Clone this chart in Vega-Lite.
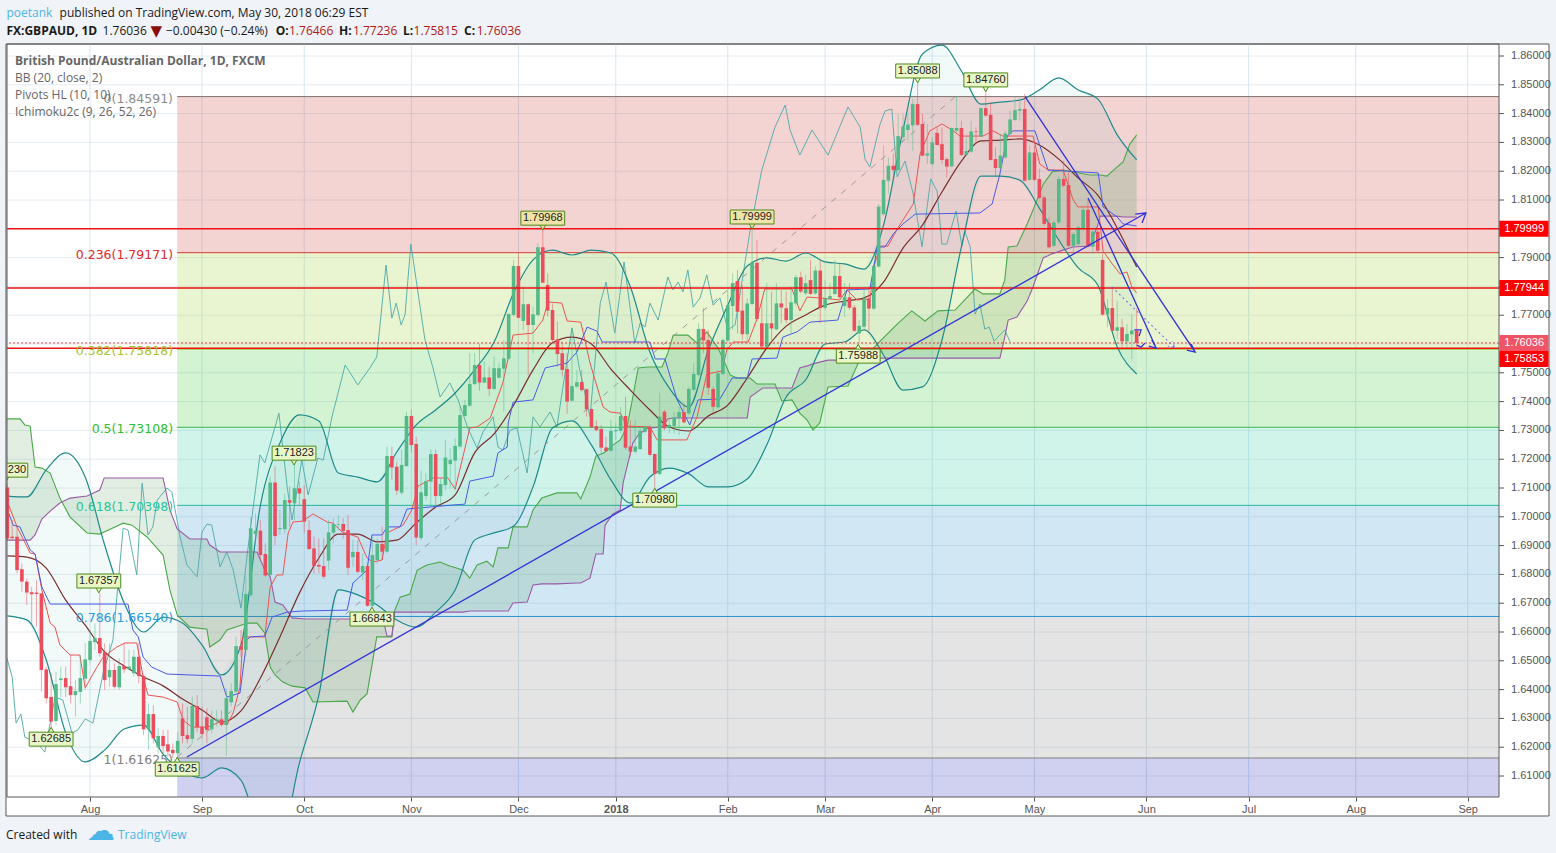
{"$schema":"https://vega.github.io/schema/vega-lite/v6.json","width":1492,"height":753,"autosize":"none","padding":{"left":7,"top":44,"right":57,"bottom":56},"background":"#f0f3f7",
"datasets":{
"panel":[{"x1":0.73,"x2":317.7,"y1":1.59611,"y2":1.86417}],
"plot":[{"x1":0.938,"x2":307.43,"y1":1.60271,"y2":1.86417}],
"gridY":[{"p":1.61},{"p":1.62},{"p":1.63},{"p":1.64},{"p":1.65},{"p":1.66},{"p":1.67},{"p":1.68},{"p":1.69},{"p":1.70},{"p":1.71},{"p":1.72},{"p":1.73},{"p":1.74},{"p":1.75},{"p":1.76},{"p":1.77},{"p":1.78},{"p":1.79},{"p":1.80},{"p":1.81},{"p":1.82},{"p":1.83},{"p":1.84},{"p":1.85},{"p":1.86}],
"gridX":[{"n":18},{"n":41},{"n":62},{"n":84},{"n":106},{"n":126},{"n":149},{"n":169},{"n":191},{"n":212},{"n":235},{"n":256},{"n":278},{"n":301}],
"fib":[{"level":"0","p":1.84591,"next":1.79171,"label":"0(1.84591)"},{"level":"0.236","p":1.79171,"next":1.75818,"label":"0.236(1.79171)"},{"level":"0.382","p":1.75818,"next":1.73108,"label":"0.382(1.75818)"},{"level":"0.5","p":1.73108,"next":1.70398,"label":"0.5(1.73108)"},{"level":"0.618","p":1.70398,"next":1.6654,"label":"0.618(1.70398)"},{"level":"0.786","p":1.6654,"next":1.61625,"label":"0.786(1.66540)"},{"level":"1","p":1.61625,"next":1.60271,"label":"1(1.61625)"}],
"hlines":[{"p":1.79999},{"p":1.77944},{"p":1.75853}],
"closeLine":[{"p":1.76036}],
"tags":[{"p":1.79999,"label":"1.79999","tone":"level"},{"p":1.77944,"label":"1.77944","tone":"level"},{"p":1.76036,"label":"1.76036","tone":"close"},{"p":1.75479,"label":"1.75853","tone":"level"}],
"callouts":[{"n":188,"p":1.8548,"label":"1.85088","dir":"high","tone":"green"},{"n":202,"p":1.8517,"label":"1.84760","dir":"high","tone":"green"},{"n":111,"p":1.8037,"label":"1.79968","dir":"high","tone":"tan"},{"n":154,"p":1.8041,"label":"1.79999","dir":"high","tone":"tan"},{"n":59.9,"p":1.7221,"label":"1.71823","dir":"high","tone":"green"},{"n":19.8,"p":1.6777,"label":"1.67357","dir":"high","tone":"green"},{"n":10,"p":1.6228,"label":"1.62685","dir":"low","tone":"green"},{"n":35.9,"p":1.6124,"label":"1.61625","dir":"low","tone":"green"},{"n":75.9,"p":1.6645,"label":"1.66843","dir":"low","tone":"green"},{"n":134,"p":1.7058,"label":"1.70980","dir":"low","tone":"green"},{"n":175.8,"p":1.7558,"label":"1.75988","dir":"low","tone":"green"},{"n":0.7,"p":1.7162,"label":"230","dir":"high","tone":"green"}],
"notes":[{"n":0.815,"p":1.87498,"label":"poetank","style":"link"},{"n":11.74,"p":1.87498,"label":"published on TradingView.com, May 30, 2018 06:29 EST","style":"plain"},{"n":0.815,"p":1.86873,"label":"FX:GBPAUD, 1D","style":"bold"},{"n":20.56,"p":1.86873,"label":"1.76036","style":"plain"},{"n":33.6,"p":1.86873,"label":"−0.00430 (−0.24%)","style":"plain"},{"n":56.14,"p":1.86873,"label":"O:","style":"bold"},{"n":58.87,"p":1.86873,"label":"1.76466","style":"loss"},{"n":69.14,"p":1.86873,"label":"H:","style":"bold"},{"n":72.01,"p":1.86873,"label":"1.77236","style":"loss"},{"n":82.28,"p":1.86873,"label":"L:","style":"bold"},{"n":84.46,"p":1.86873,"label":"1.75815","style":"loss"},{"n":94.82,"p":1.86873,"label":"C:","style":"bold"},{"n":97.45,"p":1.86873,"label":"1.76036","style":"loss"},{"n":2.58,"p":1.8583,"label":"British Pound/Australian Dollar, 1D, FXCM","style":"softbold"},{"n":2.58,"p":1.8524,"label":"BB (20, close, 2)","style":"soft"},{"n":2.58,"p":1.8465,"label":"Pivots HL (10, 10)","style":"soft"},{"n":2.58,"p":1.8406,"label":"Ichimoku2c (9, 26, 52, 26)","style":"soft"},{"n":0.73,"p":1.58951,"label":"Created with","style":"plain"},{"n":23.74,"p":1.58951,"label":"TradingView","style":"link"}],
"glyphs":[{"n":30.4,"p":1.86873,"label":"▼","style":"loss"},{"n":17.3,"p":1.5906,"label":"☁","style":"link"}],
"trends":[{"t":"a","i":1,"n":37.9,"p":1.6166},{"t":"a","i":2,"n":234.9,"p":1.8055},{"t":"a","i":3,"n":232.7,"p":1.8051},{"t":"a","i":4,"n":234.9,"p":1.8055},{"t":"a","i":5,"n":234.1,"p":1.802},{"t":"b","i":1,"n":210.1,"p":1.8458},{"t":"b","i":2,"n":245,"p":1.7572},{"t":"b","i":3,"n":243.3,"p":1.7579},{"t":"b","i":4,"n":245,"p":1.7572},{"t":"b","i":5,"n":244.2,"p":1.76},{"t":"c","i":1,"n":223,"p":1.8107},{"t":"c","i":2,"n":237,"p":1.7586},{"t":"c","i":3,"n":235.5,"p":1.7593},{"t":"c","i":4,"n":237,"p":1.7586},{"t":"c","i":5,"n":236.1,"p":1.7614},{"t":"d","i":1,"n":232.5,"p":1.7649},{"t":"d","i":2,"n":233.9,"p":1.7649},{"t":"d","i":3,"n":233.5,"p":1.7628},{"t":"e","i":1,"n":233,"p":1.7596},{"t":"e","i":2,"n":233.9,"p":1.7589},{"t":"e","i":3,"n":234.7,"p":1.7603}],
"dotted":[{"t":"f","i":1,"n":227.9,"p":1.7798},{"t":"f","i":2,"n":240.9,"p":1.7586},{"t":"f","i":3,"n":239.4,"p":1.7593},{"t":"f","i":4,"n":240.9,"p":1.7586},{"t":"f","i":5,"n":240.3,"p":1.761}],
"fibDiag":[{"n":35.9,"p":1.6166},{"n":195.7,"p":1.8458}],
"bb":[{"n":1,"up":1.7072,"lo":1.6656,"mid":1.6864},{"n":5,"up":1.7069,"lo":1.6642,"mid":1.686},{"n":9,"up":1.7163,"lo":1.6503,"mid":1.6822},{"n":13,"up":1.7222,"lo":1.6249,"mid":1.6711},{"n":17,"up":1.7138,"lo":1.6149,"mid":1.6624},{"n":21,"up":1.6902,"lo":1.619,"mid":1.6531},{"n":25,"up":1.6701,"lo":1.6263,"mid":1.6482},{"n":29,"up":1.66,"lo":1.6277,"mid":1.6444},{"n":33,"up":1.6652,"lo":1.6176,"mid":1.6413},{"n":37,"up":1.6631,"lo":1.6117,"mid":1.6367},{"n":41,"up":1.6555,"lo":1.6093,"mid":1.6329},{"n":45,"up":1.6451,"lo":1.6128,"mid":1.6288},{"n":49,"up":1.6555,"lo":1.6086,"mid":1.6326},{"n":53,"up":1.7041,"lo":1.5913,"mid":1.644},{"n":57,"up":1.7256,"lo":1.5878,"mid":1.6583},{"n":61,"up":1.7354,"lo":1.6145,"mid":1.6735},{"n":65,"up":1.7333,"lo":1.6381,"mid":1.6857},{"n":69,"up":1.7152,"lo":1.6746,"mid":1.694},{"n":73,"up":1.7138,"lo":1.6729,"mid":1.694},{"n":77,"up":1.7121,"lo":1.6694,"mid":1.6913},{"n":81,"up":1.7225,"lo":1.6642,"mid":1.6919},{"n":85,"up":1.7319,"lo":1.6617,"mid":1.6979},{"n":89,"up":1.7371,"lo":1.6669,"mid":1.7034},{"n":93,"up":1.743,"lo":1.6746,"mid":1.7076},{"n":97,"up":1.751,"lo":1.6919,"mid":1.7222},{"n":101,"up":1.7607,"lo":1.6944,"mid":1.7288},{"n":105,"up":1.7777,"lo":1.6968,"mid":1.7388},{"n":109,"up":1.7892,"lo":1.7104,"mid":1.751},{"n":113,"up":1.7926,"lo":1.7308,"mid":1.7604},{"n":117,"up":1.7909,"lo":1.7333,"mid":1.7624},{"n":121,"up":1.7926,"lo":1.7249,"mid":1.76},{"n":125,"up":1.7916,"lo":1.7128,"mid":1.7513},{"n":129,"up":1.7798,"lo":1.7048,"mid":1.744},{"n":133,"up":1.7572,"lo":1.7138,"mid":1.7371},{"n":137,"up":1.7447,"lo":1.7169,"mid":1.7312},{"n":141,"up":1.7381,"lo":1.7149,"mid":1.7298},{"n":145,"up":1.7579,"lo":1.7104,"mid":1.735},{"n":149,"up":1.7735,"lo":1.7104,"mid":1.7388},{"n":153,"up":1.7871,"lo":1.7131,"mid":1.7482},{"n":157,"up":1.7899,"lo":1.7249,"mid":1.7586},{"n":161,"up":1.7888,"lo":1.7416,"mid":1.7662},{"n":165,"up":1.7916,"lo":1.7475,"mid":1.7701},{"n":169,"up":1.7885,"lo":1.76,"mid":1.7735},{"n":173,"up":1.7878,"lo":1.7607,"mid":1.7749},{"n":177,"up":1.786,"lo":1.7649,"mid":1.776},{"n":181,"up":1.8013,"lo":1.7562,"mid":1.7815},{"n":185,"up":1.8343,"lo":1.744,"mid":1.7933},{"n":189,"up":1.8607,"lo":1.7451,"mid":1.8013},{"n":193,"up":1.8638,"lo":1.7614,"mid":1.8128},{"n":197,"up":1.8548,"lo":1.7937,"mid":1.8235},{"n":201,"up":1.8433,"lo":1.8183,"mid":1.8305},{"n":205,"up":1.844,"lo":1.8183,"mid":1.8308},{"n":209,"up":1.8447,"lo":1.8169,"mid":1.8312},{"n":213,"up":1.8482,"lo":1.8072,"mid":1.8291},{"n":217,"up":1.8524,"lo":1.7961,"mid":1.8242},{"n":221,"up":1.8482,"lo":1.7864,"mid":1.8176},{"n":225,"up":1.8451,"lo":1.7805,"mid":1.8117},{"n":229,"up":1.8326,"lo":1.759,"mid":1.8003},{"n":233,"up":1.8239,"lo":1.7496,"mid":1.7867}],
"cloud":[{"n":0.9,"a":1.734,"b":1.6919},{"n":3.6,"a":1.734,"b":1.6919},{"n":4.6,"a":1.7319,"b":1.6919},{"n":5.7,"a":1.7315,"b":1.6919},{"n":6.7,"a":1.7173,"b":1.6937},{"n":8.1,"a":1.7169,"b":1.6992},{"n":9.8,"a":1.7152,"b":1.702},{"n":11.8,"a":1.7065,"b":1.7048},{"n":13.9,"a":1.6999,"b":1.7065},{"n":17.4,"a":1.6944,"b":1.7072},{"n":20,"a":1.694,"b":1.7093},{"n":20.9,"a":1.6947,"b":1.7135},{"n":24.8,"a":1.6978,"b":1.7135},{"n":26.6,"a":1.6971,"b":1.7135},{"n":29.7,"a":1.693,"b":1.7135},{"n":33,"a":1.6867,"b":1.7135},{"n":34.4,"a":1.6746,"b":1.7024},{"n":35.9,"a":1.6659,"b":1.6958},{"n":38.5,"a":1.6617,"b":1.6923},{"n":42,"a":1.661,"b":1.6923},{"n":42.6,"a":1.6548,"b":1.6902},{"n":44.7,"a":1.6572,"b":1.6878},{"n":46.1,"a":1.6607,"b":1.6878},{"n":50.4,"a":1.6631,"b":1.6878},{"n":52.3,"a":1.6631,"b":1.6878},{"n":53.9,"a":1.6596,"b":1.6815},{"n":55,"a":1.6478,"b":1.6791},{"n":56,"a":1.6451,"b":1.6704},{"n":57.6,"a":1.6426,"b":1.6694},{"n":59.5,"a":1.6412,"b":1.6649},{"n":62.2,"a":1.6406,"b":1.6645},{"n":63.8,"a":1.6357,"b":1.6645},{"n":70.8,"a":1.636,"b":1.6645},{"n":72,"a":1.6322,"b":1.6645},{"n":73.5,"a":1.6364,"b":1.6645},{"n":74.9,"a":1.6385,"b":1.6645},{"n":76.9,"a":1.6583,"b":1.6645},{"n":78.2,"a":1.6583,"b":1.6645},{"n":79,"a":1.6583,"b":1.6586},{"n":80,"a":1.6583,"b":1.6586},{"n":80.6,"a":1.6676,"b":1.6669},{"n":81.7,"a":1.6721,"b":1.6669},{"n":83.7,"a":1.6732,"b":1.6669},{"n":85.2,"a":1.6815,"b":1.6669},{"n":87.2,"a":1.6833,"b":1.6669},{"n":89.9,"a":1.6843,"b":1.6669},{"n":91.9,"a":1.6829,"b":1.6669},{"n":94.6,"a":1.6815,"b":1.6669},{"n":96,"a":1.6787,"b":1.6673},{"n":97.5,"a":1.6833,"b":1.6673},{"n":99.5,"a":1.6846,"b":1.6673},{"n":100.8,"a":1.6826,"b":1.6673},{"n":101.8,"a":1.6892,"b":1.6673},{"n":103.9,"a":1.6892,"b":1.6673},{"n":104.9,"a":1.6965,"b":1.6701},{"n":107.8,"a":1.6965,"b":1.6704},{"n":109,"a":1.7024,"b":1.6763},{"n":110.8,"a":1.7065,"b":1.6767},{"n":113.9,"a":1.7083,"b":1.6767},{"n":118,"a":1.7083,"b":1.677},{"n":118.8,"a":1.7062,"b":1.677},{"n":120.7,"a":1.7138,"b":1.6787},{"n":121.9,"a":1.7211,"b":1.6871},{"n":123.4,"a":1.7221,"b":1.6871},{"n":123.8,"a":1.7225,"b":1.6971},{"n":125.4,"a":1.7249,"b":1.701},{"n":126.9,"a":1.7267,"b":1.7024},{"n":127.5,"a":1.7287,"b":1.7117},{"n":128.3,"a":1.7312,"b":1.7173},{"n":129.5,"a":1.7416,"b":1.7256},{"n":130.6,"a":1.7517,"b":1.7284},{"n":132.6,"a":1.752,"b":1.7308},{"n":135.5,"a":1.752,"b":1.7312},{"n":136.7,"a":1.7569,"b":1.734},{"n":137.8,"a":1.7631,"b":1.7343},{"n":140.8,"a":1.7631,"b":1.7343},{"n":142.7,"a":1.7603,"b":1.7343},{"n":144.7,"a":1.7642,"b":1.7343},{"n":147,"a":1.7586,"b":1.7343},{"n":148.4,"a":1.7534,"b":1.7343},{"n":149.5,"a":1.7492,"b":1.7343},{"n":150.9,"a":1.7482,"b":1.7343},{"n":153,"a":1.7482,"b":1.7343},{"n":153.6,"a":1.7482,"b":1.7416},{"n":155,"a":1.7461,"b":1.7433},{"n":156.2,"a":1.7461,"b":1.7447},{"n":158.7,"a":1.7461,"b":1.7447},{"n":160.1,"a":1.7402,"b":1.7447},{"n":162.2,"a":1.7406,"b":1.7447},{"n":163.8,"a":1.736,"b":1.7517},{"n":165.3,"a":1.7336,"b":1.7524},{"n":166.5,"a":1.7301,"b":1.7531},{"n":167.9,"a":1.7326,"b":1.7537},{"n":169.6,"a":1.7451,"b":1.7544},{"n":173.7,"a":1.7454,"b":1.7544},{"n":175.8,"a":1.7534,"b":1.7544},{"n":177.6,"a":1.7562,"b":1.7551},{"n":180.3,"a":1.761,"b":1.7551},{"n":183.8,"a":1.7669,"b":1.7551},{"n":186.8,"a":1.7715,"b":1.7551},{"n":189.5,"a":1.768,"b":1.7551},{"n":192.2,"a":1.7715,"b":1.7551},{"n":195.7,"a":1.7718,"b":1.7551},{"n":199.8,"a":1.7791,"b":1.7551},{"n":201.4,"a":1.7774,"b":1.7551},{"n":204.9,"a":1.7774,"b":1.7551},{"n":205.9,"a":1.7822,"b":1.7624},{"n":206.6,"a":1.7937,"b":1.7683},{"n":208.4,"a":1.794,"b":1.7694},{"n":210.5,"a":1.8017,"b":1.7749},{"n":211.7,"a":1.8065,"b":1.7798},{"n":213.8,"a":1.8155,"b":1.7899},{"n":215.6,"a":1.8197,"b":1.7913},{"n":217.9,"a":1.8204,"b":1.7926},{"n":219.9,"a":1.8197,"b":1.7937},{"n":223.4,"a":1.8187,"b":1.794},{"n":225.1,"a":1.8187,"b":1.8017},{"n":225.5,"a":1.8187,"b":1.8044},{"n":226.9,"a":1.8183,"b":1.8044},{"n":229,"a":1.8215,"b":1.8044},{"n":230.2,"a":1.8232,"b":1.8041},{"n":231.6,"a":1.8294,"b":1.8041},{"n":233,"a":1.8326,"b":1.8041}],
"lag":[{"n":0.9,"p":1.651},{"n":2,"p":1.6444},{"n":2.8,"p":1.6284},{"n":3.8,"p":1.6315},{"n":4.6,"p":1.6235},{"n":7.1,"p":1.6215},{"n":8.7,"p":1.6183},{"n":10.8,"p":1.6374},{"n":12.4,"p":1.6364},{"n":14.3,"p":1.6249},{"n":15.5,"p":1.626},{"n":17,"p":1.6298},{"n":18.6,"p":1.6284},{"n":20.7,"p":1.6458},{"n":22.7,"p":1.6572},{"n":24.8,"p":1.6961},{"n":25.8,"p":1.6954},{"n":27.6,"p":1.6798},{"n":28.7,"p":1.7117},{"n":29.9,"p":1.6937},{"n":30.9,"p":1.6965},{"n":31.8,"p":1.7058},{"n":33.8,"p":1.71},{"n":34.8,"p":1.7086},{"n":36.5,"p":1.693},{"n":37.9,"p":1.6833},{"n":40,"p":1.6791},{"n":41,"p":1.6947},{"n":42,"p":1.6975},{"n":43,"p":1.6971},{"n":44.7,"p":1.6826},{"n":46.1,"p":1.6878},{"n":47.4,"p":1.6815},{"n":49,"p":1.6683},{"n":50.4,"p":1.6885},{"n":52.9,"p":1.7215},{"n":53.9,"p":1.7187},{"n":56.8,"p":1.736},{"n":58.5,"p":1.7103},{"n":59.5,"p":1.6989},{"n":61.5,"p":1.7197},{"n":62.8,"p":1.7076},{"n":64.8,"p":1.7204},{"n":65.9,"p":1.7197},{"n":67.7,"p":1.7347},{"n":70.4,"p":1.7527},{"n":73,"p":1.7458},{"n":75.5,"p":1.7517},{"n":76.9,"p":1.7555},{"n":78.8,"p":1.7874},{"n":80,"p":1.769},{"n":80.9,"p":1.7742},{"n":81.9,"p":1.7666},{"n":82.7,"p":1.7701},{"n":83.9,"p":1.7947},{"n":86.8,"p":1.7614},{"n":88.4,"p":1.752},{"n":89.9,"p":1.7416},{"n":91.9,"p":1.7465},{"n":93.6,"p":1.7406},{"n":95.6,"p":1.7308},{"n":97.5,"p":1.7239},{"n":98.7,"p":1.7294},{"n":100.8,"p":1.7347},{"n":101.8,"p":1.7242},{"n":102.8,"p":1.7232},{"n":104.3,"p":1.7301},{"n":105.7,"p":1.7308},{"n":107.8,"p":1.7152},{"n":109,"p":1.7347},{"n":110.4,"p":1.7312},{"n":112.5,"p":1.7364},{"n":113.9,"p":1.7312},{"n":117,"p":1.7656},{"n":118.6,"p":1.751},{"n":120.7,"p":1.7347},{"n":122.8,"p":1.7742},{"n":124,"p":1.7815},{"n":125.8,"p":1.7638},{"n":127.7,"p":1.7885},{"n":129.9,"p":1.7603},{"n":131,"p":1.7673},{"n":132,"p":1.7659},{"n":133,"p":1.7742},{"n":134.7,"p":1.7683},{"n":136.7,"p":1.7833},{"n":137.7,"p":1.7788},{"n":138.8,"p":1.7815},{"n":139.8,"p":1.7781},{"n":140.8,"p":1.7857},{"n":141.9,"p":1.7728},{"n":143.3,"p":1.776},{"n":144.7,"p":1.784},{"n":146,"p":1.7735},{"n":147.4,"p":1.776},{"n":149,"p":1.7649},{"n":150.5,"p":1.7666},{"n":153.6,"p":1.7996},{"n":156,"p":1.8204},{"n":158.7,"p":1.8353},{"n":160.8,"p":1.843},{"n":161.8,"p":1.8343},{"n":163.8,"p":1.8256},{"n":166.3,"p":1.8343},{"n":169.6,"p":1.8256},{"n":173.7,"p":1.8423},{"n":176.2,"p":1.8353},{"n":177.2,"p":1.8242},{"n":178.2,"p":1.8215},{"n":180.3,"p":1.8364},{"n":181.3,"p":1.8409},{"n":182.7,"p":1.8416},{"n":183.8,"p":1.818},{"n":185.4,"p":1.8235},{"n":187.1,"p":1.8121},{"n":188.9,"p":1.7937},{"n":190.7,"p":1.8173},{"n":192,"p":1.8131},{"n":193,"p":1.7947},{"n":194,"p":1.7947},{"n":195.9,"p":1.8062},{"n":197.1,"p":1.794},{"n":197.7,"p":1.7992},{"n":198.8,"p":1.7937},{"n":199.8,"p":1.7704},{"n":200.8,"p":1.7739},{"n":201.8,"p":1.7652},{"n":202.7,"p":1.7659},{"n":203.7,"p":1.761},{"n":205.9,"p":1.7649},{"n":207,"p":1.7607}],
"tenkan":[{"n":0.9,"p":1.7058},{"n":3,"p":1.6965},{"n":5.7,"p":1.6874},{"n":6.7,"p":1.6871},{"n":8.1,"p":1.6746},{"n":9.8,"p":1.6631},{"n":10.8,"p":1.6617},{"n":11.8,"p":1.6555},{"n":13.9,"p":1.652},{"n":15.9,"p":1.652},{"n":17,"p":1.6406},{"n":19.4,"p":1.6478},{"n":20.7,"p":1.6513},{"n":23.5,"p":1.6548},{"n":25.2,"p":1.6562},{"n":27.6,"p":1.6562},{"n":28.9,"p":1.6444},{"n":29.9,"p":1.6381},{"n":33,"p":1.6374},{"n":35.9,"p":1.6357},{"n":37.1,"p":1.6294},{"n":38.9,"p":1.627},{"n":42.2,"p":1.627},{"n":44.7,"p":1.6288},{"n":46.1,"p":1.6277},{"n":47.4,"p":1.6319},{"n":48.8,"p":1.6409},{"n":49.4,"p":1.6583},{"n":53.9,"p":1.6583},{"n":55,"p":1.6756},{"n":56.4,"p":1.6798},{"n":57.6,"p":1.6798},{"n":58.7,"p":1.6944},{"n":59.7,"p":1.6982},{"n":61.7,"p":1.6985},{"n":63.8,"p":1.701},{"n":66.7,"p":1.6982},{"n":67.9,"p":1.6978},{"n":69.8,"p":1.6947},{"n":73,"p":1.693},{"n":74.9,"p":1.6857},{"n":76.1,"p":1.6843},{"n":78,"p":1.685},{"n":79,"p":1.6944},{"n":82.3,"p":1.6971},{"n":84.1,"p":1.7024},{"n":85.4,"p":1.7107},{"n":88.5,"p":1.7135},{"n":91.5,"p":1.7135},{"n":93,"p":1.7096},{"n":96,"p":1.7308},{"n":97.5,"p":1.7312},{"n":100.2,"p":1.7343},{"n":102.8,"p":1.7465},{"n":104.9,"p":1.7631},{"n":109,"p":1.7638},{"n":111,"p":1.7683},{"n":112.1,"p":1.7746},{"n":114.9,"p":1.7742},{"n":116,"p":1.768},{"n":118.8,"p":1.7676},{"n":120.7,"p":1.7534},{"n":123.4,"p":1.7381},{"n":124.8,"p":1.7364},{"n":126.9,"p":1.736},{"n":128.3,"p":1.7315},{"n":133,"p":1.7312},{"n":134.5,"p":1.7267},{"n":140.6,"p":1.7267},{"n":142.7,"p":1.7347},{"n":144.7,"p":1.7496},{"n":147.8,"p":1.7506},{"n":148.8,"p":1.7579},{"n":150.1,"p":1.7607},{"n":153.2,"p":1.7607},{"n":155,"p":1.7687},{"n":156.6,"p":1.7791},{"n":162.2,"p":1.7791},{"n":163.8,"p":1.7715},{"n":165.3,"p":1.7763},{"n":167.9,"p":1.776},{"n":172,"p":1.7753},{"n":173.5,"p":1.7788},{"n":175.5,"p":1.7753},{"n":178.2,"p":1.7756},{"n":179.2,"p":1.7878},{"n":180.3,"p":1.794},{"n":181.9,"p":1.794},{"n":183.8,"p":1.7999},{"n":187.1,"p":1.8086},{"n":188.5,"p":1.826},{"n":190.5,"p":1.834},{"n":193,"p":1.8364},{"n":195.1,"p":1.8343},{"n":196.7,"p":1.8322},{"n":201.4,"p":1.8322},{"n":203.5,"p":1.834},{"n":205.5,"p":1.8322},{"n":211.7,"p":1.8322},{"n":213.1,"p":1.8225},{"n":214.8,"p":1.8204},{"n":217.9,"p":1.8204},{"n":219.9,"p":1.8103},{"n":220.9,"p":1.8076},{"n":225.1,"p":1.8076},{"n":226.1,"p":1.7923},{"n":228,"p":1.7878},{"n":229.6,"p":1.7843},{"n":231,"p":1.785},{"n":232,"p":1.7798},{"n":233,"p":1.7777}],
"kijun":[{"n":0.9,"p":1.703},{"n":2.2,"p":1.6971},{"n":3.6,"p":1.6965},{"n":5.7,"p":1.6885},{"n":6.7,"p":1.6871},{"n":8.1,"p":1.6756},{"n":9.8,"p":1.6697},{"n":25.8,"p":1.6697},{"n":26.8,"p":1.6607},{"n":27.9,"p":1.6583},{"n":28.9,"p":1.6513},{"n":30.7,"p":1.6478},{"n":33.8,"p":1.6454},{"n":44.7,"p":1.6447},{"n":46.1,"p":1.6374},{"n":48.8,"p":1.6388},{"n":50.2,"p":1.6572},{"n":50.9,"p":1.6583},{"n":53.9,"p":1.6586},{"n":55.4,"p":1.6652},{"n":58.5,"p":1.6669},{"n":61.7,"p":1.6673},{"n":70.8,"p":1.6676},{"n":72,"p":1.677},{"n":74.9,"p":1.6815},{"n":75.9,"p":1.6937},{"n":78,"p":1.6937},{"n":79,"p":1.6965},{"n":81.7,"p":1.6965},{"n":83.1,"p":1.7027},{"n":92.6,"p":1.7041},{"n":95,"p":1.7044},{"n":96,"p":1.7124},{"n":100.8,"p":1.7141},{"n":101.8,"p":1.7222},{"n":103.7,"p":1.7242},{"n":103.9,"p":1.7326},{"n":104.9,"p":1.7398},{"n":109,"p":1.7406},{"n":111.5,"p":1.7517},{"n":116,"p":1.7534},{"n":118,"p":1.7572},{"n":120.1,"p":1.7659},{"n":122.1,"p":1.7645},{"n":123.2,"p":1.7607},{"n":133,"p":1.7607},{"n":134.1,"p":1.7548},{"n":136.1,"p":1.7548},{"n":138.6,"p":1.7406},{"n":141.2,"p":1.7319},{"n":142.9,"p":1.7406},{"n":147.4,"p":1.7409},{"n":149.9,"p":1.7482},{"n":153,"p":1.7482},{"n":154,"p":1.7548},{"n":159.1,"p":1.7551},{"n":160.3,"p":1.7624},{"n":163.2,"p":1.7642},{"n":165.9,"p":1.7676},{"n":171.6,"p":1.7683},{"n":173.5,"p":1.7788},{"n":178.2,"p":1.7791},{"n":179.7,"p":1.7937},{"n":181.3,"p":1.7937},{"n":183,"p":1.7982},{"n":185,"p":1.8017},{"n":187.5,"p":1.8051},{"n":200.8,"p":1.8055},{"n":203.3,"p":1.8086},{"n":204.9,"p":1.819},{"n":206.4,"p":1.8322},{"n":207.6,"p":1.834},{"n":212.1,"p":1.834},{"n":214.8,"p":1.8204},{"n":225.1,"p":1.8194},{"n":226.1,"p":1.8076},{"n":229,"p":1.8041},{"n":230.2,"p":1.8017},{"n":233,"p":1.801}],
"candles":[{"n":1,"o":1.7102,"h":1.7116,"l":1.6919,"c":1.6925},{"n":2,"o":1.6931,"h":1.6989,"l":1.6919,"c":1.6926},{"n":3,"o":1.6931,"h":1.6972,"l":1.6804,"c":1.6815},{"n":4,"o":1.6818,"h":1.6838,"l":1.674,"c":1.6775},{"n":5,"o":1.6775,"h":1.6786,"l":1.6694,"c":1.6737},{"n":6,"o":1.6738,"h":1.6757,"l":1.6624,"c":1.6731},{"n":7,"o":1.6737,"h":1.6781,"l":1.6619,"c":1.6732},{"n":8,"o":1.6734,"h":1.6736,"l":1.6393,"c":1.6468},{"n":9,"o":1.647,"h":1.648,"l":1.6352,"c":1.637},{"n":10,"o":1.6375,"h":1.6457,"l":1.6271,"c":1.6289},{"n":11,"o":1.6291,"h":1.6462,"l":1.6277,"c":1.6419},{"n":12,"o":1.6433,"h":1.648,"l":1.6375,"c":1.6439},{"n":13,"o":1.644,"h":1.648,"l":1.6375,"c":1.6408},{"n":14,"o":1.6412,"h":1.652,"l":1.6352,"c":1.6381},{"n":15,"o":1.6381,"h":1.6433,"l":1.6306,"c":1.6395},{"n":16,"o":1.6392,"h":1.652,"l":1.6352,"c":1.644},{"n":17,"o":1.6438,"h":1.6561,"l":1.6399,"c":1.6505},{"n":18,"o":1.6503,"h":1.6607,"l":1.6491,"c":1.6569},{"n":19,"o":1.6565,"h":1.663,"l":1.6538,"c":1.6579},{"n":20,"o":1.6579,"h":1.67357,"l":1.6514,"c":1.6526},{"n":21,"o":1.653,"h":1.6561,"l":1.6399,"c":1.6433},{"n":22,"o":1.6443,"h":1.6561,"l":1.641,"c":1.6468},{"n":23,"o":1.6468,"h":1.6491,"l":1.6404,"c":1.641},{"n":24,"o":1.6408,"h":1.6509,"l":1.6399,"c":1.6482},{"n":25,"o":1.6482,"h":1.6561,"l":1.6457,"c":1.647},{"n":26,"o":1.6471,"h":1.6538,"l":1.6468,"c":1.648},{"n":27,"o":1.6457,"h":1.6538,"l":1.6445,"c":1.6514},{"n":28,"o":1.6514,"h":1.6561,"l":1.6422,"c":1.6447},{"n":29,"o":1.6447,"h":1.6451,"l":1.6242,"c":1.6262},{"n":30,"o":1.6262,"h":1.6352,"l":1.619,"c":1.6315},{"n":31,"o":1.6315,"h":1.6346,"l":1.6213,"c":1.6231},{"n":32,"o":1.62,"h":1.6266,"l":1.6179,"c":1.6239},{"n":33,"o":1.6239,"h":1.626,"l":1.6179,"c":1.6204},{"n":34,"o":1.621,"h":1.626,"l":1.6167,"c":1.6185},{"n":35,"o":1.6191,"h":1.6213,"l":1.61625,"c":1.6179},{"n":36,"o":1.6179,"h":1.6254,"l":1.617,"c":1.6222},{"n":37,"o":1.63,"h":1.6352,"l":1.6213,"c":1.6239},{"n":38,"o":1.6242,"h":1.6341,"l":1.6213,"c":1.6228},{"n":39,"o":1.6229,"h":1.6375,"l":1.6213,"c":1.6343},{"n":40,"o":1.6343,"h":1.6381,"l":1.6254,"c":1.6269},{"n":41,"o":1.6271,"h":1.6341,"l":1.6231,"c":1.6246},{"n":42,"o":1.6304,"h":1.6335,"l":1.6213,"c":1.626},{"n":43,"o":1.6262,"h":1.6329,"l":1.6248,"c":1.6297},{"n":44,"o":1.6292,"h":1.6329,"l":1.6271,"c":1.6297},{"n":45,"o":1.6297,"h":1.6329,"l":1.6271,"c":1.6277},{"n":46,"o":1.6277,"h":1.6404,"l":1.617,"c":1.637},{"n":47,"o":1.6356,"h":1.6422,"l":1.6341,"c":1.6395},{"n":48,"o":1.6393,"h":1.6584,"l":1.6387,"c":1.6551},{"n":49,"o":1.6551,"h":1.6607,"l":1.6514,"c":1.6538},{"n":50,"o":1.6538,"h":1.6792,"l":1.6514,"c":1.6732},{"n":51,"o":1.6728,"h":1.7,"l":1.6723,"c":1.696},{"n":52,"o":1.694,"h":1.7012,"l":1.6908,"c":1.6952},{"n":53,"o":1.6952,"h":1.6989,"l":1.685,"c":1.6867},{"n":54,"o":1.6871,"h":1.6908,"l":1.6792,"c":1.6796},{"n":55,"o":1.6798,"h":1.7139,"l":1.6792,"c":1.7119},{"n":56,"o":1.7119,"h":1.7174,"l":1.6902,"c":1.6933},{"n":57,"o":1.6957,"h":1.7024,"l":1.6937,"c":1.6961},{"n":58,"o":1.6957,"h":1.7081,"l":1.6942,"c":1.7058},{"n":59,"o":1.7058,"h":1.7105,"l":1.6966,"c":1.7049},{"n":60,"o":1.7047,"h":1.71823,"l":1.6989,"c":1.7099},{"n":61,"o":1.7099,"h":1.7122,"l":1.7041,"c":1.7081},{"n":62,"o":1.7061,"h":1.711,"l":1.6945,"c":1.6983},{"n":63,"o":1.6954,"h":1.6989,"l":1.6885,"c":1.6888},{"n":64,"o":1.689,"h":1.6931,"l":1.6804,"c":1.6829},{"n":65,"o":1.6833,"h":1.6925,"l":1.6804,"c":1.6827},{"n":66,"o":1.6829,"h":1.6925,"l":1.6784,"c":1.6792},{"n":67,"o":1.6848,"h":1.6989,"l":1.6815,"c":1.6946},{"n":68,"o":1.6945,"h":1.6995,"l":1.6908,"c":1.6975},{"n":69,"o":1.6973,"h":1.7006,"l":1.6954,"c":1.6975},{"n":70,"o":1.6975,"h":1.6995,"l":1.6925,"c":1.6951},{"n":71,"o":1.6954,"h":1.7006,"l":1.6798,"c":1.6823},{"n":72,"o":1.686,"h":1.6919,"l":1.6827,"c":1.6878},{"n":73,"o":1.6878,"h":1.6919,"l":1.6804,"c":1.6809},{"n":74,"o":1.6807,"h":1.6873,"l":1.6781,"c":1.6829},{"n":75,"o":1.6829,"h":1.6838,"l":1.6688,"c":1.6691},{"n":76,"o":1.6691,"h":1.6931,"l":1.66843,"c":1.6867},{"n":77,"o":1.685,"h":1.6925,"l":1.6838,"c":1.6906},{"n":78,"o":1.6906,"h":1.6966,"l":1.685,"c":1.6879},{"n":79,"o":1.6879,"h":1.7244,"l":1.6873,"c":1.7211},{"n":80,"o":1.7211,"h":1.7244,"l":1.7128,"c":1.7171},{"n":81,"o":1.7174,"h":1.7191,"l":1.7076,"c":1.7091},{"n":82,"o":1.7084,"h":1.7232,"l":1.7076,"c":1.718},{"n":83,"o":1.7176,"h":1.7365,"l":1.7174,"c":1.735},{"n":84,"o":1.735,"h":1.7371,"l":1.7223,"c":1.7249},{"n":85,"o":1.7253,"h":1.7278,"l":1.6902,"c":1.6928},{"n":86,"o":1.6926,"h":1.7162,"l":1.6919,"c":1.7085},{"n":87,"o":1.7072,"h":1.7151,"l":1.7058,"c":1.7124},{"n":88,"o":1.7122,"h":1.7234,"l":1.7041,"c":1.7218},{"n":89,"o":1.7218,"h":1.7234,"l":1.7041,"c":1.7072},{"n":90,"o":1.7072,"h":1.7134,"l":1.7047,"c":1.7114},{"n":91,"o":1.711,"h":1.7267,"l":1.7093,"c":1.7206},{"n":92,"o":1.7183,"h":1.7238,"l":1.7099,"c":1.7197},{"n":93,"o":1.7195,"h":1.7272,"l":1.7093,"c":1.7246},{"n":94,"o":1.7244,"h":1.7382,"l":1.7238,"c":1.7353},{"n":95,"o":1.735,"h":1.7406,"l":1.7348,"c":1.7388},{"n":96,"o":1.7386,"h":1.7568,"l":1.7382,"c":1.7461},{"n":97,"o":1.7461,"h":1.7568,"l":1.7458,"c":1.7527},{"n":98,"o":1.7527,"h":1.7602,"l":1.7438,"c":1.7466},{"n":99,"o":1.7466,"h":1.7539,"l":1.7464,"c":1.7484},{"n":100,"o":1.7484,"h":1.7521,"l":1.742,"c":1.7444},{"n":101,"o":1.7444,"h":1.7556,"l":1.744,"c":1.7516},{"n":102,"o":1.7483,"h":1.7533,"l":1.7481,"c":1.7516},{"n":103,"o":1.7514,"h":1.7614,"l":1.7365,"c":1.755},{"n":104,"o":1.7549,"h":1.7707,"l":1.7544,"c":1.7704},{"n":105,"o":1.7701,"h":1.7892,"l":1.7695,"c":1.7871},{"n":106,"o":1.7871,"h":1.7915,"l":1.7689,"c":1.7691},{"n":107,"o":1.768,"h":1.7799,"l":1.7649,"c":1.7738},{"n":108,"o":1.7738,"h":1.7741,"l":1.7492,"c":1.7666},{"n":109,"o":1.7666,"h":1.773,"l":1.7568,"c":1.7703},{"n":110,"o":1.7701,"h":1.795,"l":1.7695,"c":1.7936},{"n":111,"o":1.7936,"h":1.79968,"l":1.7811,"c":1.7813},{"n":112,"o":1.7805,"h":1.7845,"l":1.7695,"c":1.7716},{"n":113,"o":1.7718,"h":1.7741,"l":1.7608,"c":1.7614},{"n":114,"o":1.7616,"h":1.7678,"l":1.7521,"c":1.7565},{"n":115,"o":1.7568,"h":1.7608,"l":1.7487,"c":1.751},{"n":116,"o":1.7513,"h":1.7568,"l":1.7357,"c":1.74},{"n":117,"o":1.7403,"h":1.7654,"l":1.74,"c":1.7454},{"n":118,"o":1.7452,"h":1.751,"l":1.7446,"c":1.7467},{"n":119,"o":1.7468,"h":1.751,"l":1.7434,"c":1.744},{"n":120,"o":1.7443,"h":1.7446,"l":1.7348,"c":1.7373},{"n":121,"o":1.7374,"h":1.7377,"l":1.7307,"c":1.7311},{"n":122,"o":1.7315,"h":1.7334,"l":1.7296,"c":1.7301},{"n":123,"o":1.7305,"h":1.7319,"l":1.722,"c":1.724},{"n":124,"o":1.7241,"h":1.7278,"l":1.7226,"c":1.7228},{"n":125,"o":1.7229,"h":1.7336,"l":1.7226,"c":1.7298},{"n":126,"o":1.7297,"h":1.7325,"l":1.7267,"c":1.7301},{"n":127,"o":1.7299,"h":1.7382,"l":1.729,"c":1.735},{"n":128,"o":1.735,"h":1.7417,"l":1.7232,"c":1.724},{"n":129,"o":1.7244,"h":1.7336,"l":1.7209,"c":1.7226},{"n":130,"o":1.7226,"h":1.7336,"l":1.722,"c":1.7244},{"n":131,"o":1.7235,"h":1.7313,"l":1.7232,"c":1.7298},{"n":132,"o":1.7295,"h":1.7319,"l":1.729,"c":1.7311},{"n":133,"o":1.7311,"h":1.7319,"l":1.7209,"c":1.7215},{"n":134,"o":1.7218,"h":1.722,"l":1.7098,"c":1.7149},{"n":135,"o":1.7149,"h":1.7431,"l":1.7146,"c":1.7348},{"n":136,"o":1.7365,"h":1.7371,"l":1.7301,"c":1.7307},{"n":137,"o":1.7311,"h":1.7336,"l":1.729,"c":1.7319},{"n":138,"o":1.7315,"h":1.7365,"l":1.729,"c":1.7345},{"n":139,"o":1.7343,"h":1.7382,"l":1.7284,"c":1.7364},{"n":140,"o":1.7364,"h":1.7394,"l":1.7325,"c":1.7328},{"n":141,"o":1.7359,"h":1.7452,"l":1.7354,"c":1.7444},{"n":142,"o":1.7441,"h":1.7533,"l":1.7435,"c":1.7496},{"n":143,"o":1.7492,"h":1.7672,"l":1.7487,"c":1.7652},{"n":144,"o":1.7652,"h":1.7724,"l":1.7568,"c":1.7612},{"n":145,"o":1.7614,"h":1.7649,"l":1.7423,"c":1.7448},{"n":146,"o":1.7444,"h":1.7452,"l":1.7359,"c":1.7382},{"n":147,"o":1.738,"h":1.751,"l":1.7377,"c":1.7498},{"n":148,"o":1.7496,"h":1.762,"l":1.7492,"c":1.7614},{"n":149,"o":1.7612,"h":1.7788,"l":1.7608,"c":1.7735},{"n":150,"o":1.7732,"h":1.7845,"l":1.7649,"c":1.7811},{"n":151,"o":1.7819,"h":1.7857,"l":1.7637,"c":1.7712},{"n":152,"o":1.7716,"h":1.7805,"l":1.7614,"c":1.7634},{"n":153,"o":1.7634,"h":1.7758,"l":1.7602,"c":1.7741},{"n":154,"o":1.7739,"h":1.79999,"l":1.7735,"c":1.7882},{"n":155,"o":1.7882,"h":1.7961,"l":1.7683,"c":1.7687},{"n":156,"o":1.7672,"h":1.7753,"l":1.7585,"c":1.7591},{"n":157,"o":1.7589,"h":1.7811,"l":1.7585,"c":1.7672},{"n":158,"o":1.7672,"h":1.7782,"l":1.7602,"c":1.7654},{"n":159,"o":1.7651,"h":1.7811,"l":1.7649,"c":1.7741},{"n":160,"o":1.7741,"h":1.7788,"l":1.7672,"c":1.7727},{"n":161,"o":1.7724,"h":1.7782,"l":1.7672,"c":1.7683},{"n":162,"o":1.7683,"h":1.7799,"l":1.7637,"c":1.7745},{"n":163,"o":1.7741,"h":1.784,"l":1.7735,"c":1.7832},{"n":164,"o":1.7832,"h":1.7851,"l":1.7776,"c":1.7782},{"n":165,"o":1.7776,"h":1.784,"l":1.777,"c":1.7811},{"n":166,"o":1.7822,"h":1.7892,"l":1.777,"c":1.7774},{"n":167,"o":1.7776,"h":1.7869,"l":1.777,"c":1.7855},{"n":168,"o":1.7855,"h":1.7892,"l":1.7672,"c":1.7726},{"n":169,"o":1.7726,"h":1.7822,"l":1.7718,"c":1.7758},{"n":170,"o":1.7757,"h":1.7811,"l":1.7753,"c":1.7767},{"n":171,"o":1.7774,"h":1.7892,"l":1.777,"c":1.7837},{"n":172,"o":1.7836,"h":1.788,"l":1.7758,"c":1.7762},{"n":173,"o":1.7732,"h":1.7811,"l":1.7695,"c":1.7762},{"n":174,"o":1.7762,"h":1.7811,"l":1.7718,"c":1.7726},{"n":175,"o":1.7727,"h":1.7735,"l":1.7643,"c":1.7646},{"n":176,"o":1.7637,"h":1.7683,"l":1.7602,"c":1.7663},{"n":177,"o":1.766,"h":1.7799,"l":1.7654,"c":1.7758},{"n":178,"o":1.7758,"h":1.7799,"l":1.7643,"c":1.7723},{"n":179,"o":1.7723,"h":1.788,"l":1.7718,"c":1.7871},{"n":180,"o":1.7869,"h":1.8086,"l":1.7866,"c":1.8077},{"n":181,"o":1.8051,"h":1.8289,"l":1.8046,"c":1.817},{"n":182,"o":1.8167,"h":1.8248,"l":1.8121,"c":1.8219},{"n":183,"o":1.8219,"h":1.826,"l":1.8167,"c":1.8204},{"n":184,"o":1.8204,"h":1.8399,"l":1.8202,"c":1.8322},{"n":185,"o":1.8318,"h":1.8399,"l":1.8306,"c":1.8355},{"n":186,"o":1.8343,"h":1.8399,"l":1.8306,"c":1.8362},{"n":187,"o":1.8359,"h":1.8451,"l":1.8271,"c":1.8433},{"n":188,"o":1.8433,"h":1.85088,"l":1.8358,"c":1.8361},{"n":189,"o":1.8364,"h":1.8399,"l":1.8252,"c":1.8254},{"n":190,"o":1.8254,"h":1.8364,"l":1.8225,"c":1.8262},{"n":191,"o":1.8225,"h":1.8318,"l":1.8219,"c":1.83},{"n":192,"o":1.8333,"h":1.8352,"l":1.8289,"c":1.8291},{"n":193,"o":1.8294,"h":1.8352,"l":1.8225,"c":1.8239},{"n":194,"o":1.8242,"h":1.8248,"l":1.8179,"c":1.8216},{"n":195,"o":1.8217,"h":1.8352,"l":1.8213,"c":1.835},{"n":196,"o":1.8341,"h":1.8462,"l":1.8335,"c":1.835},{"n":197,"o":1.835,"h":1.8375,"l":1.8254,"c":1.8256},{"n":198,"o":1.8256,"h":1.8318,"l":1.8254,"c":1.827},{"n":199,"o":1.8268,"h":1.8375,"l":1.8265,"c":1.8338},{"n":200,"o":1.8338,"h":1.8352,"l":1.8294,"c":1.8336},{"n":201,"o":1.832,"h":1.8422,"l":1.8318,"c":1.8419},{"n":202,"o":1.8419,"h":1.8476,"l":1.8389,"c":1.8393},{"n":203,"o":1.8396,"h":1.8439,"l":1.8237,"c":1.8239},{"n":204,"o":1.8242,"h":1.8283,"l":1.8179,"c":1.8211},{"n":205,"o":1.8211,"h":1.8329,"l":1.8208,"c":1.8254},{"n":206,"o":1.8248,"h":1.8341,"l":1.8242,"c":1.8331},{"n":207,"o":1.8329,"h":1.841,"l":1.8327,"c":1.838},{"n":208,"o":1.8378,"h":1.8462,"l":1.8375,"c":1.8412},{"n":209,"o":1.841,"h":1.8456,"l":1.8375,"c":1.8416},{"n":210,"o":1.8416,"h":1.8468,"l":1.8165,"c":1.8167},{"n":211,"o":1.817,"h":1.8289,"l":1.8167,"c":1.8265},{"n":212,"o":1.8265,"h":1.8289,"l":1.8167,"c":1.817},{"n":213,"o":1.8173,"h":1.8208,"l":1.8103,"c":1.8107},{"n":214,"o":1.8109,"h":1.8115,"l":1.8011,"c":1.8017},{"n":215,"o":1.802,"h":1.804,"l":1.7933,"c":1.7936},{"n":216,"o":1.7941,"h":1.8028,"l":1.7936,"c":1.8022},{"n":217,"o":1.8022,"h":1.8184,"l":1.8017,"c":1.8173},{"n":218,"o":1.8173,"h":1.8237,"l":1.8144,"c":1.815},{"n":219,"o":1.8152,"h":1.8196,"l":1.7936,"c":1.7941},{"n":220,"o":1.7941,"h":1.7988,"l":1.7912,"c":1.7982},{"n":221,"o":1.7947,"h":1.8011,"l":1.7941,"c":1.8005},{"n":222,"o":1.8002,"h":1.8074,"l":1.7994,"c":1.8066},{"n":223,"o":1.8066,"h":1.8103,"l":1.7936,"c":1.7939},{"n":224,"o":1.7938,"h":1.7994,"l":1.7915,"c":1.799},{"n":225,"o":1.799,"h":1.8005,"l":1.7918,"c":1.7924},{"n":226,"o":1.7892,"h":1.7918,"l":1.7698,"c":1.7702},{"n":227,"o":1.7702,"h":1.7756,"l":1.7658,"c":1.7725},{"n":228,"o":1.7725,"h":1.7797,"l":1.7644,"c":1.7646},{"n":229,"o":1.7646,"h":1.775,"l":1.7617,"c":1.7658},{"n":230,"o":1.7658,"h":1.7687,"l":1.7588,"c":1.7609},{"n":231,"o":1.7609,"h":1.7669,"l":1.7588,"c":1.7635},{"n":232,"o":1.7634,"h":1.7704,"l":1.7548,"c":1.7647},{"n":233,"o":1.76466,"h":1.77236,"l":1.75815,"c":1.76036}]
},
"resolve":{"scale":{"color":"independent","shape":"independent"}},
"layer":[
{"data":{"name":"panel"},"mark":{"type":"rect","fill":"#ffffff","stroke":"#5a5a5a","strokeWidth":1},"encoding":{
 "x":{"field":"x1","type":"quantitative","title":null,"scale":{"domain":[0.938,307.43],"nice":false,"zero":false},"axis":{"title":null,"orient":"bottom","grid":false,"domain":false,"values":[18,41,62,84,106,126,149,169,191,212,235,256,278,301],"labelExpr":"{'18':'Aug','41':'Sep','62':'Oct','84':'Nov','106':'Dec','126':'2018','149':'Feb','169':'Mar','191':'Apr','212':'May','235':'Jun','256':'Jul','278':'Aug','301':'Sep'}[datum.value]","labelFont":"Liberation Sans","labelFontSize":11,"labelColor":"#555555","labelFontWeight":{"condition":{"test":"datum.value==126","value":"bold"},"value":"normal"},"tickColor":"#555555","tickSize":4,"labelPadding":2,"labelFlush":false,"labelOverlap":false,"zindex":1}},
 "x2":{"field":"x2"},
 "y":{"field":"y1","type":"quantitative","title":null,"scale":{"domain":[1.60271,1.86417],"nice":false,"zero":false},"axis":{"title":null,"orient":"right","grid":false,"domain":false,"labels":false,"ticks":false}},
 "y2":{"field":"y2"}}},
{"data":{"name":"gridY"},"mark":{"type":"rule","stroke":"#e4ecf2","strokeWidth":1},"encoding":{"y":{"field":"p","type":"quantitative"}}},
{"data":{"name":"gridX"},"mark":{"type":"rule","stroke":"#d9e6f0","strokeWidth":1},"encoding":{"x":{"field":"n","type":"quantitative"}}},
{"data":{"name":"fib"},"mark":{"type":"rect","opacity":0.22},"encoding":{"x":{"datum":35.9},"x2":{"datum":307.43},"y":{"field":"p","type":"quantitative"},"y2":{"field":"next"},"color":{"field":"level","type":"nominal","legend":null,"scale":{"domain":["0","0.236","0.382","0.5","0.618","0.786","1"],"range":["#c83c37","#9bcd29","#37c837","#2ecda0","#3292cd","#848484","#2929ba"]}}}},
{"data":{"name":"fib"},"mark":{"type":"rule","strokeWidth":1},"encoding":{"x":{"datum":35.9},"x2":{"datum":307.43},"y":{"field":"p","type":"quantitative"},"color":{"field":"level","type":"nominal","legend":null,"scale":{"domain":["0","0.236","0.382","0.5","0.618","0.786","1"],"range":["#7d7070","#d83a30","#a6c039","#3cb54a","#25b99a","#2a8fd0","#808080"]}}}},
{"data":{"name":"bb"},"mark":{"type":"area","fill":"#2196a0","opacity":0.06,"clip":true},"encoding":{"x":{"field":"n","type":"quantitative"},"y":{"field":"up","type":"quantitative"},"y2":{"field":"lo"}}},
{"data":{"name":"cloud"},"mark":{"type":"area","fill":"#3a8f3a","opacity":0.15,"clip":true},"encoding":{"x":{"field":"n","type":"quantitative"},"y":{"field":"a","type":"quantitative"},"y2":{"field":"b"}}},
{"data":{"name":"lag"},"mark":{"type":"line","stroke":"#4fa8a8","strokeWidth":1,"opacity":0.9,"clip":true},"encoding":{"x":{"field":"n","type":"quantitative"},"y":{"field":"p","type":"quantitative"}}},
{"data":{"name":"cloud"},"mark":{"type":"line","stroke":"#4aa84a","strokeWidth":1.1,"clip":true},"encoding":{"x":{"field":"n","type":"quantitative"},"y":{"field":"a","type":"quantitative"}}},
{"data":{"name":"cloud"},"mark":{"type":"line","stroke":"#9a5aa8","strokeWidth":1.1,"clip":true},"encoding":{"x":{"field":"n","type":"quantitative"},"y":{"field":"b","type":"quantitative"}}},
{"data":{"name":"bb"},"mark":{"type":"line","stroke":"#1e8a8a","strokeWidth":1.2,"interpolate":"monotone","clip":true},"encoding":{"x":{"field":"n","type":"quantitative"},"y":{"field":"up","type":"quantitative"}}},
{"data":{"name":"bb"},"mark":{"type":"line","stroke":"#1e8a8a","strokeWidth":1.2,"interpolate":"monotone","clip":true},"encoding":{"x":{"field":"n","type":"quantitative"},"y":{"field":"lo","type":"quantitative"}}},
{"data":{"name":"bb"},"mark":{"type":"line","stroke":"#7a2e2e","strokeWidth":1.2,"interpolate":"monotone","clip":true},"encoding":{"x":{"field":"n","type":"quantitative"},"y":{"field":"mid","type":"quantitative"}}},
{"data":{"name":"tenkan"},"mark":{"type":"line","stroke":"#ef5350","strokeWidth":1,"clip":true},"encoding":{"x":{"field":"n","type":"quantitative"},"y":{"field":"p","type":"quantitative"}}},
{"data":{"name":"kijun"},"mark":{"type":"line","stroke":"#4a5ae8","strokeWidth":1,"clip":true},"encoding":{"x":{"field":"n","type":"quantitative"},"y":{"field":"p","type":"quantitative"}}},
{"data":{"name":"fibDiag"},"mark":{"type":"line","stroke":"#9a9a9a","strokeWidth":1,"strokeDash":[6,7]},"encoding":{"x":{"field":"n","type":"quantitative"},"y":{"field":"p","type":"quantitative"}}},
{"data":{"name":"candles"},"mark":{"type":"rule","strokeWidth":1,"opacity":0.5},"encoding":{"x":{"field":"n","type":"quantitative"},"y":{"field":"l","type":"quantitative"},"y2":{"field":"h"},"color":{"condition":{"test":"datum.c>=datum.o","value":"#53b987"},"value":"#eb4d5c"}}},
{"data":{"name":"candles"},"mark":{"type":"rule","strokeWidth":3.6,"strokeCap":"butt"},"encoding":{"x":{"field":"n","type":"quantitative"},"y":{"field":"o","type":"quantitative"},"y2":{"field":"c"},"color":{"condition":{"test":"datum.c>=datum.o","value":"#53b987"},"value":"#eb4d5c"}}},
{"data":{"name":"hlines"},"mark":{"type":"rule","stroke":"#ee1111","strokeWidth":1.5},"encoding":{"y":{"field":"p","type":"quantitative"}}},
{"data":{"name":"closeLine"},"mark":{"type":"rule","stroke":"#ee3344","strokeWidth":1,"strokeDash":[2,2]},"encoding":{"y":{"field":"p","type":"quantitative"}}},
{"data":{"name":"trends"},"mark":{"type":"line","stroke":"#3232d8","strokeWidth":1.3},"encoding":{"x":{"field":"n","type":"quantitative"},"y":{"field":"p","type":"quantitative"},"detail":{"field":"t"},"order":{"field":"i"}}},
{"data":{"name":"dotted"},"mark":{"type":"line","stroke":"#5a5ae8","strokeWidth":1.1,"strokeDash":[2,3],"opacity":0.8},"encoding":{"x":{"field":"n","type":"quantitative"},"y":{"field":"p","type":"quantitative"},"detail":{"field":"t"},"order":{"field":"i"}}},
{"data":{"name":"fib"},"mark":{"type":"text","align":"right","baseline":"middle","font":"DejaVu Sans","fontSize":12.5,"dy":2},"encoding":{"x":{"datum":35.04},"y":{"field":"p","type":"quantitative"},"text":{"field":"label"},"color":{"field":"level","type":"nominal","legend":null,"scale":{"domain":["0","0.236","0.382","0.5","0.618","0.786","1"],"range":["#8c8c8c","#e02a2a","#a9c42c","#2fc02f","#1fc79a","#2a9ae0","#808080"]}}}},
{"data":{"name":"callouts"},"transform":[{"calculate":"datum.n-4.5","as":"x1"},{"calculate":"datum.n+4.5","as":"x2"},{"calculate":"datum.p-0.00243","as":"y1"},{"calculate":"datum.p+0.00243","as":"y2"},{"calculate":"datum.dir=='high'?datum.p-0.0031:datum.p+0.0031","as":"tail"},{"calculate":"datum.label=='230'?datum.n+2.3:datum.n","as":"tx"}],"layer":[
 {"mark":{"type":"point","filled":true,"size":45,"stroke":"#4d8a1a","strokeWidth":1,"opacity":1,"clip":true},"encoding":{"x":{"field":"n","type":"quantitative"},"y":{"field":"tail","type":"quantitative"},"shape":{"field":"dir","type":"nominal","legend":null,"scale":{"domain":["high","low"],"range":["triangle-down","triangle-up"]}},"fill":{"field":"tone","type":"nominal","legend":null,"scale":{"domain":["green","tan"],"range":["#e9f6c6","#efe3a7"]}}}},
 {"mark":{"type":"rect","stroke":"#4d8a1a","strokeWidth":1,"clip":true},"encoding":{"x":{"field":"x1","type":"quantitative"},"x2":{"field":"x2"},"y":{"field":"y1","type":"quantitative"},"y2":{"field":"y2"},"fill":{"field":"tone","type":"nominal","legend":null,"scale":{"domain":["green","tan"],"range":["#e9f6c6","#efe3a7"]}}}},
 {"mark":{"type":"text","font":"Liberation Sans","fontSize":11,"fill":"#222222","baseline":"middle"},"encoding":{"x":{"field":"tx","type":"quantitative"},"y":{"field":"p","type":"quantitative"},"text":{"field":"label"}}}
]},
{"data":{"name":"plot"},"mark":{"type":"rect","fill":null,"fillOpacity":0,"stroke":"#5a5a5a","strokeWidth":1},"encoding":{"x":{"field":"x1","type":"quantitative"},"x2":{"field":"x2"},"y":{"field":"y1","type":"quantitative"},"y2":{"field":"y2"}}},
{"data":{"name":"gridY"},"mark":{"type":"rule","stroke":"#555555","strokeWidth":1},"encoding":{"x":{"datum":307.43},"x2":{"datum":308.45},"y":{"field":"p","type":"quantitative"}}},
{"data":{"name":"gridY"},"transform":[{"filter":"abs(datum.p-1.8)>0.001&&abs(datum.p-1.78)>0.001&&abs(datum.p-1.76)>0.001"}],"mark":{"type":"text","font":"Liberation Sans","fontSize":11,"fill":"#555555","align":"left","baseline":"middle"},"encoding":{"x":{"datum":309.9},"y":{"field":"p","type":"quantitative"},"text":{"field":"p","type":"quantitative","format":".5f"}}},
{"data":{"name":"tags"},"transform":[{"calculate":"datum.p-0.00278","as":"y1"},{"calculate":"datum.p+0.00278","as":"y2"}],"mark":{"type":"rect"},"encoding":{"x":{"datum":307.5},"x2":{"datum":317.6},"y":{"field":"y1","type":"quantitative"},"y2":{"field":"y2"},"color":{"field":"tone","type":"nominal","legend":null,"scale":{"domain":["level","close"],"range":["#ff0000","#ee5366"]}}}},
{"data":{"name":"tags"},"mark":{"type":"text","font":"Liberation Sans","fontSize":11,"fill":"#ffffff","baseline":"middle"},"encoding":{"x":{"datum":312.6},"y":{"field":"p","type":"quantitative"},"text":{"field":"label"}}},
{"data":{"name":"notes"},"transform":[{"filter":"datum.style=='plain'||datum.style=='link'||datum.style=='loss'||datum.style=='soft'"}],"mark":{"type":"text","font":"Open Sans","fontSize":12,"align":"left","baseline":"middle"},"encoding":{"x":{"field":"n","type":"quantitative"},"y":{"field":"p","type":"quantitative"},"text":{"field":"label"},"color":{"field":"style","type":"nominal","legend":null,"scale":{"domain":["plain","link","loss","soft"],"range":["#1a1a1a","#4bb5e8","#b01818","#666666"]}}}},
{"data":{"name":"notes"},"transform":[{"filter":"datum.style=='bold'||datum.style=='softbold'"}],"mark":{"type":"text","font":"Open Sans","fontSize":12,"fontWeight":"bold","align":"left","baseline":"middle"},"encoding":{"x":{"field":"n","type":"quantitative"},"y":{"field":"p","type":"quantitative"},"text":{"field":"label"},"color":{"field":"style","type":"nominal","legend":null,"scale":{"domain":["bold","softbold"],"range":["#1a1a1a","#666666"]}}}},
{"data":{"name":"glyphs"},"mark":{"type":"text","font":"DejaVu Sans","align":"left","baseline":"middle"},"encoding":{"x":{"field":"n","type":"quantitative"},"y":{"field":"p","type":"quantitative"},"text":{"field":"label"},"size":{"condition":{"test":"datum.label=='☁'","value":28},"value":15},"color":{"field":"style","type":"nominal","legend":null,"scale":{"domain":["loss","link"],"range":["#8b0d0d","#4bb5e8"]}}}}
]}
